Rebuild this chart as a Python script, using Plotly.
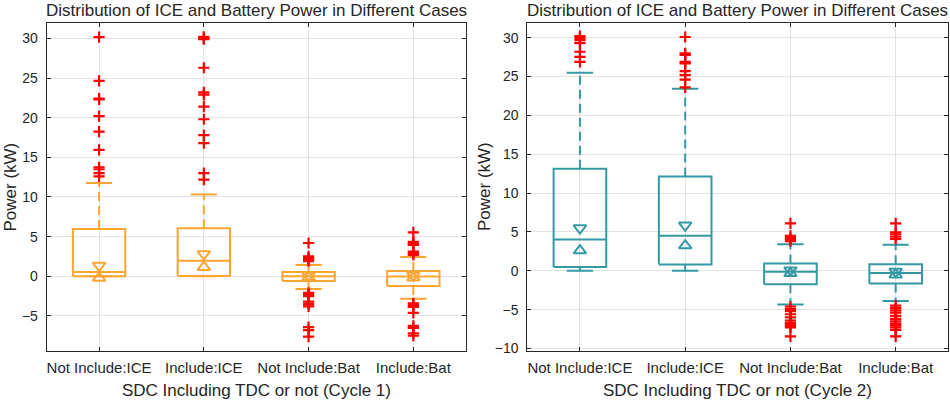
import plotly.graph_objects as go

categories = ["Not Include:ICE", "Include:ICE", "Not Include:Bat", "Include:Bat"]

# Cycle 1 box statistics
c1_q1 = [0.0, 0.05, -0.58, -1.22]
c1_med = [0.55, 1.95, 0.0, -0.03]
c1_q3 = [5.95, 6.05, 0.55, 0.67]
c1_lw = [0.0, 0.0, -1.6, -2.82]
c1_uw = [11.75, 10.3, 1.42, 2.43]
c1_nlo = [-0.2, 1.15, -0.1, -0.18]
c1_nhi = [1.35, 2.8, 0.1, 0.12]
c1_out = [
    [30.15, 24.65, 22.4, 22.3, 20.2, 18.25, 15.95, 13.75, 13.5, 13.0, 12.6],
    [30.2, 30.0, 29.9, 26.3, 23.2, 22.9, 21.4, 19.8, 17.8, 16.8, 13.0, 12.2],
    [4.2, 2.5, 2.3, 2.1, 1.9, -2.1, -2.3, -2.5, -3.2, -3.5, -3.8, -6.4, -6.8, -7.6],
    [5.55, 4.35, 4.15, 3.95, 3.1, 2.9, 2.7, -3.4, -3.6, -3.85, -4.6, -6.25, -6.5, -7.2, -7.5],
]

# Cycle 2 box statistics
c2_q1 = [0.47, 0.82, -1.72, -1.63]
c2_med = [4.02, 4.5, -0.13, -0.3]
c2_q3 = [13.15, 12.15, 0.92, 0.85]
c2_lw = [0.0, 0.0, -4.35, -3.9]
c2_uw = [25.5, 23.45, 3.4, 3.35]
c2_nlo = [2.6, 3.25, -0.33, -0.5]
c2_nhi = [5.5, 5.85, 0.07, -0.1]
c2_out = [
    [30.2, 29.95, 29.7, 29.3, 28.2, 27.55, 26.9],
    [30.1, 28.0, 27.8, 26.9, 26.7, 25.7, 25.2, 24.6, 23.6],
    [6.1, 4.5, 4.2, 4.0, 3.8, -4.6, -4.9, -5.2, -5.6, -6.0, -6.4, -6.7, -6.9, -7.1, -7.3, -8.45],
    [6.1, 4.95, 4.7, 4.4, 4.1, -4.5, -4.8, -5.1, -5.4, -5.8, -6.2, -6.5, -6.8, -7.0, -7.3, -7.6, -8.45],
]

c1_tickvals = [-5, 0, 5, 10, 15, 20, 25, 30]
c2_tickvals = [-10, -5, 0, 5, 10, 15, 20, 25, 30]

ORANGE = "#FDA532"
TEAL = "#3599A4"
RED = "#FF0000"
TXT = "#262626"
FONT = "Liberation Sans, Arial, sans-serif"
W, H = 950, 402

fig = go.Figure()


def add_boxes(q1, med, q3, lw, uw, nlo, nhi, outs, color, xa, ya):
    hw, cw = 0.25, 0.125
    bx, by, wx, wy, cx, cy = [], [], [], [], [], []
    for i in range(len(categories)):
        p = i + 1
        bx += [p - hw, p + hw, p + hw, p - hw, p - hw, None, p - hw, p + hw, None]
        by += [q1[i], q1[i], q3[i], q3[i], q1[i], None, med[i], med[i], None]
        wx += [p, p, None, p, p, None]
        wy += [q3[i], uw[i], None, q1[i], lw[i], None]
        cx += [p - cw, p + cw, None, p - cw, p + cw, None]
        cy += [uw[i], uw[i], None, lw[i], lw[i], None]
    common = dict(xaxis=xa, yaxis=ya, showlegend=False, hoverinfo="skip")
    fig.add_trace(go.Scatter(x=wx, y=wy, mode="lines",
                             line=dict(color=color, width=2, dash="9px,5px"), **common))
    fig.add_trace(go.Scatter(x=cx, y=cy, mode="lines",
                             line=dict(color=color, width=2), **common))
    fig.add_trace(go.Scatter(x=bx, y=by, mode="lines",
                             line=dict(color=color, width=2), **common))
    pos = list(range(1, len(categories) + 1))
    fig.add_trace(go.Scatter(x=pos, y=nhi, mode="markers",
                             marker=dict(symbol="triangle-down-open", size=11,
                                         color=color, line=dict(color=color, width=2)), **common))
    fig.add_trace(go.Scatter(x=pos, y=nlo, mode="markers",
                             marker=dict(symbol="triangle-up-open", size=11,
                                         color=color, line=dict(color=color, width=2)), **common))
    ox, oy = [], []
    for i, o in enumerate(outs):
        ox += [i + 1] * len(o)
        oy += o
    fig.add_trace(go.Scatter(x=ox, y=oy, mode="markers",
                             marker=dict(symbol="cross-thin-open", size=8, color=RED,
                                         line=dict(color=RED, width=2.2)), **common))


add_boxes(c1_q1, c1_med, c1_q3, c1_lw, c1_uw, c1_nlo, c1_nhi, c1_out, ORANGE, "x", "y")
add_boxes(c2_q1, c2_med, c2_q3, c2_lw, c2_uw, c2_nlo, c2_nhi, c2_out, TEAL, "x2", "y2")

ytop, ybot = 23, 351
ydom = [1 - ybot / H, 1 - ytop / H]

xcommon = dict(range=[0.5, 4.5], tickvals=[1, 2, 3, 4], ticktext=categories,
               showgrid=True, gridcolor="#E3E3E3", gridwidth=1, zeroline=False,
               showline=True, linecolor=TXT, linewidth=1, mirror="ticks",
               ticks="inside", ticklen=4, tickcolor=TXT, automargin=False,
               ticklabelstandoff=3,
               tickfont=dict(family=FONT, size=15, color=TXT))
ycommon = dict(showgrid=True, gridcolor="#E3E3E3", gridwidth=1, zeroline=False,
               showline=True, linecolor=TXT, linewidth=1, mirror="ticks",
               ticks="inside", ticklen=4, tickcolor=TXT, automargin=False,
               ticklabelstandoff=5,
               tickfont=dict(family=FONT, size=14, color=TXT))

fig.update_layout(
    template="none",
    width=W, height=H,
    margin=dict(l=0, r=0, t=0, b=0, pad=0),
    paper_bgcolor="white", plot_bgcolor="white",
    xaxis=dict(domain=[46.7 / W, 465.7 / W], anchor="y", **xcommon),
    yaxis=dict(domain=ydom, anchor="x", range=[-9.42, 31.94], tickvals=c1_tickvals, **ycommon),
    xaxis2=dict(domain=[527.3 / W, 948.3 / W], anchor="y2", **xcommon),
    yaxis2=dict(domain=ydom, anchor="x2", range=[-10.33, 31.9], tickvals=c2_tickvals, **ycommon),
)

annots = []
for cx, cyc in [(256.2, 1), (737.8, 2)]:
    annots.append(dict(text="Distribution of ICE and Battery Power in Different Cases",
                       x=cx / W, y=1 - 10.5 / H, xref="paper", yref="paper",
                       xanchor="center", yanchor="middle", showarrow=False,
                       font=dict(family=FONT, size=17, color=TXT)))
    annots.append(dict(text=f"SDC Including TDC or not (Cycle {cyc})",
                       x=cx / W, y=1 - 390 / H, xref="paper", yref="paper",
                       xanchor="center", yanchor="middle", showarrow=False,
                       font=dict(family=FONT, size=17, color=TXT)))
for lx in [9.5, 484]:
    annots.append(dict(text="Power (kW)", textangle=-90,
                       x=lx / W, y=1 - 187 / H, xref="paper", yref="paper",
                       xanchor="center", yanchor="middle", showarrow=False,
                       font=dict(family=FONT, size=17, color=TXT)))
fig.update_layout(annotations=annots)

fig.write_html("out.html",
               config={"displayModeBar": False, "staticPlot": True},
               post_script="document.body.style.margin='0';document.body.style.padding='0';"
                           "document.documentElement.style.overflow='hidden';")
